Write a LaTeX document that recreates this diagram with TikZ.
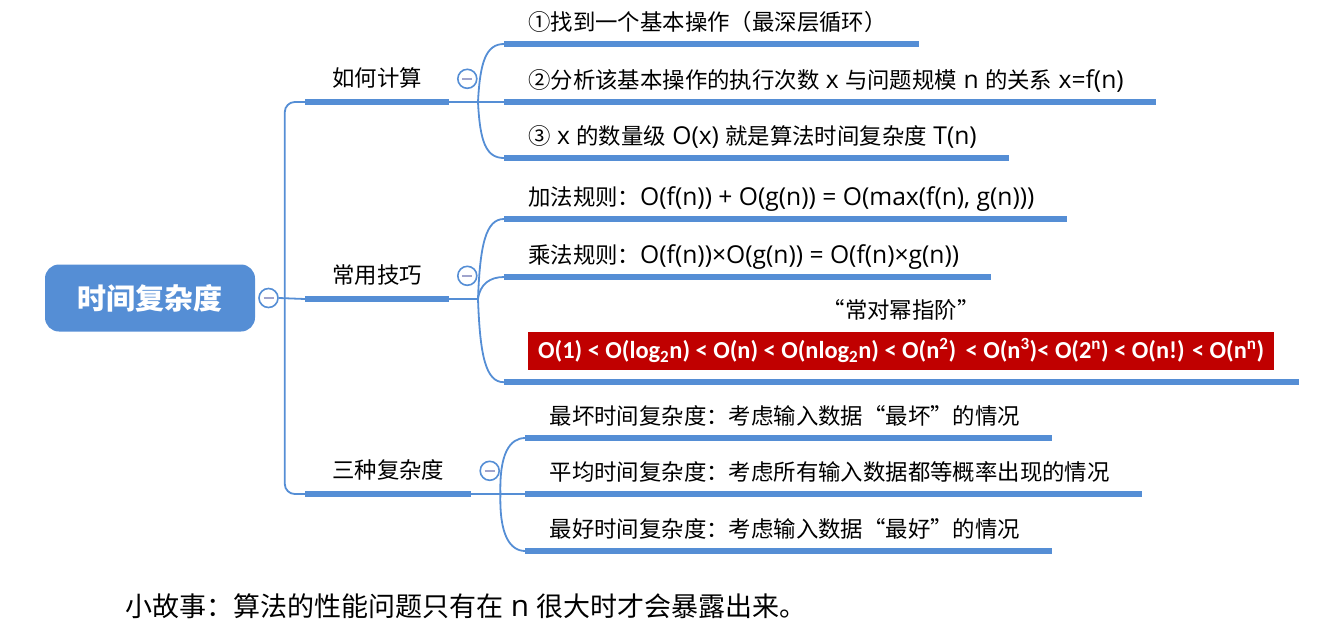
\documentclass[tikz,border=0pt]{standalone}
\usepackage{fontspec}
\usepackage{tikz}
\usetikzlibrary{positioning, calc, fit}
\newfontfamily\cjk{Noto Sans CJK SC}
\newfontfamily\latfont[Scale=1.1]{Open Sans}
\newfontfamily\calib{Carlito}
\newcommand\lat[1]{{\latfont\relax#1}}
\definecolor{mapblue}{RGB}{85,142,213}
\definecolor{foldgray}{RGB}{160,164,204}
\definecolor{orderred}{RGB}{192,0,0}

\begin{document}
\begin{tikzpicture}[x=1pt, y=-1pt]
    \tikzstyle{link} = [draw=mapblue, line width=1.8pt]
    \tikzstyle{bar} = [draw=mapblue, line width=5.5pt]
    \tikzstyle{root} = [rectangle, rounded corners=14pt, fill=mapblue, text=white, minimum width=210pt, minimum height=67pt, font=\cjk\bfseries\fontsize{29}{32}\selectfont]
    \tikzstyle{branch} = [anchor=south west, inner xsep=27pt, inner ysep=12pt, text height=19pt, text depth=3pt, font=\cjk\fontsize{22.4}{26}\selectfont]
    \tikzstyle{leaf} = [branch, inner xsep=24pt, inner ysep=10pt, execute at end node={\hspace*{8pt}}]
    \tikzstyle{fold} = [circle, draw=mapblue, line width=1.6pt, fill=white, minimum size=19pt, inner sep=0pt,
        path picture={\draw[foldgray, line width=2.4pt] ($(path picture bounding box.center)+(-5pt,0pt)$) -- ($(path picture bounding box.center)+(5pt,0pt)$);}]

    \useasboundingbox (0,0) rectangle (1344,635);

    % root and the three branches
    \node [root] (root) at (150,298) {时间复杂度};
    \node [fold, right=3pt of root] (rootfold) {};
    \coordinate (spine) at ($(rootfold.east)+(6,0)$);

    \node [branch] (calc) at (305,102) {如何计算};
    \node [branch] (tips) at (305,299) {常用技巧};
    \node [branch] (kinds) at (305,494) {三种复杂度};

    \node [fold, right=8pt of calc] (calcfold) {};
    \node [fold, right=8pt of tips] (tipsfold) {};
    \node [fold, right=8pt of kinds] (kindsfold) {};

    \coordinate (calcj) at ($(calc.south east)+(29,0)$);
    \coordinate (tipsj) at ($(tips.south east)+(29,0)$);
    \coordinate (kindsj) at ($(kinds.south east)+(29,0)$);

    % how to compute
    \node [leaf] (calc1) at ($(calcj)+(26,-58)$) {①找到一个基本操作（最深层循环）};
    \node [leaf] (calc2) at ($(calcj)+(26,0)$) {②分析该基本操作的执行次数\lat{ x }与问题规模\lat{ n }的关系\lat{ x=f(n)}};
    \node [leaf] (calc3) at ($(calcj)+(26,56)$) {③\lat{ x }的数量级\lat{ O(x) }就是算法时间复杂度\lat{ T(n)}};

    % common tricks
    \node [leaf] (tips1) at ($(tipsj)+(26,-80)$) {加法规则：\lat{O(f(n)) + O(g(n)) = O(max(f(n), g(n)))}};
    \node [leaf] (tips2) at ($(tipsj)+(26,-22)$) {乘法规则：\lat{O(f(n))×O(g(n)) = O(f(n)×g(n))}};
    \node [anchor=south west, fill=orderred, text=white, minimum height=38pt, inner xsep=10pt, font=\calib\bfseries\fontsize{24.4}{28}\selectfont] (order) at ($(tipsj)+(50,71)$)
        {O(1) < O(log\textsubscript{2}n) < O(n) < O(nlog\textsubscript{2}n) < O(n\textsuperscript{2}) \,< O(n\textsuperscript{3})< O(2\textsuperscript{n}) < O(n!) < O(n\textsuperscript{n})};
    \node [above=10pt of order, inner sep=0pt, text height=19pt, text depth=3pt, font=\cjk\fontsize{22.4}{26}\selectfont] (motto) {“常对幂指阶”};
    \node [fit=(motto)(order), inner xsep=24pt, inner ysep=12pt] (tips3) {};

    % three kinds
    \node [leaf] (kinds1) at ($(kindsj)+(25,-56)$) {最坏时间复杂度：考虑输入数据“最坏”的情况};
    \node [leaf] (kinds2) at ($(kindsj)+(25,0)$) {平均时间复杂度：考虑所有输入数据都等概率出现的情况};
    \node [leaf] (kinds3) at ($(kindsj)+(25,57)$) {最好时间复杂度：考虑输入数据“最好”的情况};

    \node [anchor=west, inner sep=0pt, font=\cjk\fontsize{27}{32}\selectfont] (story) at (125,606) {小故事：算法的性能问题只有在\lat{ n }很大时才会暴露出来。};

    % connectors
    \draw [link, rounded corners=10pt] (calc.south west) -| (spine) |- (kinds.south west);
    \draw [link] (rootfold.east) -- (tips.south west);

    \draw [link] (calcj) .. controls +(2,-40) and +(-18,0) .. (calc1.south west);
    \draw [link] (calc.south east) -- (calc2.south west);
    \draw [link] (calcj) .. controls +(2,40) and +(-18,0) .. (calc3.south west);

    \draw [link] (tipsj) .. controls +(2,-55) and +(-18,0) .. (tips1.south west);
    \draw [link] (tipsj) .. controls +(2,-15) and +(-14,0) .. (tips2.south west);
    \draw [link] (tips.south east) -- (tipsj);
    \draw [link] (tipsj) .. controls +(2,57) and +(-18,0) .. (tips3.south west);

    \draw [link] (kindsj) .. controls +(-1,-40) and +(-16,0) .. (kinds1.south west);
    \draw [link] (kinds.south east) -- (kinds2.south west);
    \draw [link] (kindsj) .. controls +(-1,40) and +(-16,0) .. (kinds3.south west);

    \foreach \n in {calc, tips, kinds, calc1, calc2, calc3, tips1, tips2, tips3, kinds1, kinds2, kinds3}
        \draw [bar] (\n.south west) -- (\n.south east);
\end{tikzpicture}
\end{document}
